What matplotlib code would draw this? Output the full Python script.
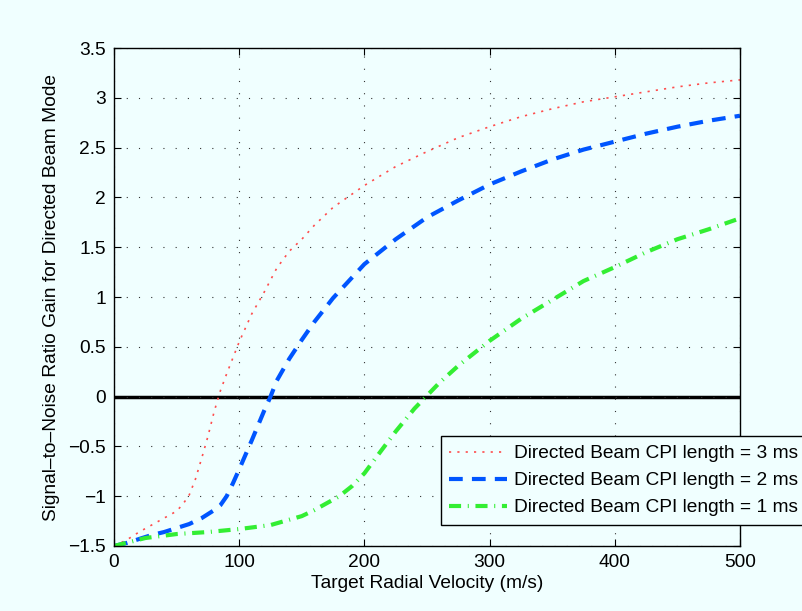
import matplotlib
matplotlib.use("Agg")
import matplotlib.pyplot as plt

# Target radial velocity samples (m/s) for each curve
vel_3ms = [0, 10, 20, 30, 40, 50, 55, 60, 65, 70, 75, 80, 85, 90, 100, 110, 120, 130, 140,
           150, 160, 175, 200, 225, 250, 275, 300, 325, 350, 375, 400, 425, 450, 475, 500]
snr_3ms = [-1.50, -1.44, -1.36, -1.29, -1.22, -1.15, -1.08, -0.99, -0.83, -0.62, -0.40,
           -0.15, 0.06, 0.23, 0.55, 0.83, 1.05, 1.29, 1.46, 1.58, 1.72, 1.90, 2.12, 2.31,
           2.46, 2.60, 2.71, 2.81, 2.89, 2.96, 3.01, 3.06, 3.11, 3.15, 3.18]

vel_2ms = [0, 10, 20, 30, 40, 50, 60, 70, 80, 85, 90, 95, 100, 110, 120, 125, 130, 140, 150,
           160, 175, 200, 225, 250, 275, 300, 325, 350, 375, 400, 425, 450, 475, 500]
snr_2ms = [-1.50, -1.47, -1.43, -1.39, -1.36, -1.32, -1.28, -1.22, -1.14, -1.09, -1.00,
           -0.87, -0.73, -0.44, -0.14, 0.00, 0.16, 0.38, 0.57, 0.75, 0.99, 1.33, 1.58,
           1.80, 1.97, 2.13, 2.26, 2.38, 2.48, 2.56, 2.64, 2.71, 2.77, 2.82]

vel_1ms = [0, 25, 50, 75, 100, 125, 150, 160, 170, 180, 190, 200, 210, 225, 240, 250, 260,
           275, 300, 325, 350, 375, 400, 425, 450, 475, 500]
snr_1ms = [-1.50, -1.42, -1.38, -1.36, -1.33, -1.29, -1.20, -1.14, -1.07, -1.00, -0.90,
           -0.77, -0.60, -0.35, -0.12, 0.01, 0.14, 0.31, 0.56, 0.78, 0.97, 1.16, 1.30,
           1.45, 1.58, 1.68, 1.79]

labels = ["Directed Beam CPI length = 3 ms",
          "Directed Beam CPI length = 2 ms",
          "Directed Beam CPI length = 1 ms"]

x_ticks = [0, 100, 200, 300, 400, 500]
y_ticks = [-1.5, -1, -0.5, 0, 0.5, 1, 1.5, 2, 2.5, 3, 3.5]

bg = '#F0FFFF'
plt.rcParams['font.family'] = ['Liberation Sans', 'DejaVu Sans']
plt.rcParams['font.size'] = 13.8

fig = plt.figure(figsize=(8.03, 6.11), dpi=100, facecolor=bg)
ax = fig.add_axes([0.142, 0.1064, 0.7795, 0.815])
ax.set_facecolor(bg)

ax.plot(vel_3ms, snr_3ms, color='#FF4D4D', lw=1.2, dashes=(1.3, 3.7), label=labels[0])
ax.plot(vel_2ms, snr_2ms, color='#0055FF', lw=3.0, dashes=(3.3, 2.2), label=labels[1])
ax.plot(vel_1ms, snr_1ms, color='#33EE33', lw=3.0, dashes=(2.9, 1.6, 0.25, 1.6), label=labels[2])
ax.axhline(0, color='black', lw=2.5, zorder=1)

ax.set_xlim(0, 500)
ax.set_ylim(-1.5, 3.5)
ax.set_xticks(x_ticks)
ax.set_yticks(y_ticks)
ax.set_yticklabels([f"{t:g}".replace('-', '\u2212') for t in y_ticks])
ax.grid(True, color='#333333', linestyle=(0, (1, 10)), lw=0.8)
ax.tick_params(direction='in', top=True, right=True, length=5, width=0.8, pad=6)
for s in ax.spines.values():
    s.set_linewidth(1.0)

ax.set_xlabel("Target Radial Velocity (m/s)", labelpad=3)
ax.set_ylabel("Signal\u2013to\u2013Noise Ratio Gain for Directed Beam Mode", labelpad=6)

leg = fig.legend(loc='lower left', bbox_to_anchor=(0.549, 0.1408),
                 bbox_transform=fig.transFigure, borderaxespad=0,
                 handlelength=3.0, handletextpad=0.35, labelspacing=0.5,
                 borderpad=0.45, fancybox=False, framealpha=1)
leg.get_frame().set_edgecolor('black')
leg.get_frame().set_facecolor(bg)
leg.get_frame().set_linewidth(1.0)

fig.savefig("out.png", dpi=100, facecolor=bg)
